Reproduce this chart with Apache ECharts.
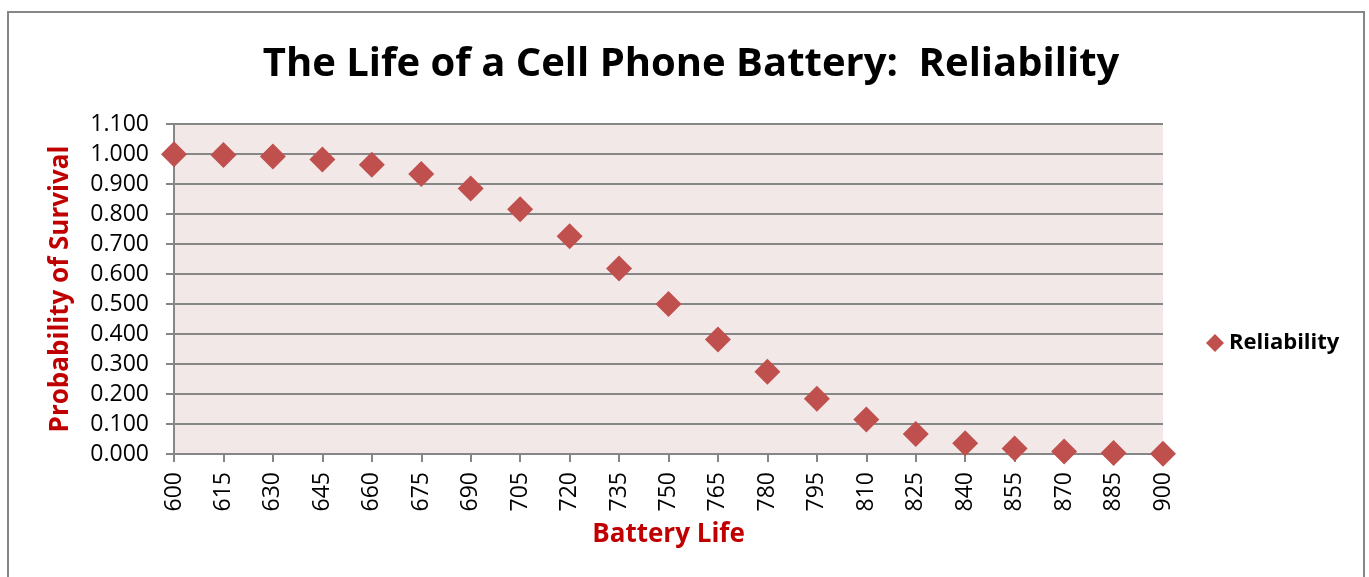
<!DOCTYPE html>
<html>
<head>
<meta charset="utf-8">
<title>The Life of a Cell Phone Battery: Reliability</title>
<script src="https://cdn.jsdelivr.net/npm/echarts@6/dist/echarts.min.js"></script>
<style>
  html, body { margin: 0; padding: 0; background: #fff; }
  #chart { width: 1369px; height: 577px; }
</style>
</head>
<body>
<div id="chart"></div>
<script>
// battery life (hours) and probability of survival
const batteryLife = [600, 615, 630, 645, 660, 675, 690, 705, 720, 735, 750,
  765, 780, 795, 810, 825, 840, 855, 870, 885, 900]
const reliability = [0.999, 0.997, 0.992, 0.982, 0.964, 0.933, 0.885, 0.816, 0.726, 0.618, 0.500,
  0.382, 0.274, 0.184, 0.115, 0.067, 0.036, 0.018, 0.008, 0.003, 0.001]

const red = '#c0504d'
const axisGray = '#868686'
const font = '"Open Sans", "Liberation Sans", sans-serif'

const chart = echarts.init(document.getElementById('chart'))

chart.setOption({
  animation: false,
  textStyle: { fontFamily: font },
  title: {
    text: 'The Life of a Cell Phone Battery:  Reliability',
    left: 686,
    top: 40,
    textAlign: 'center',
    textStyle: { fontSize: 40, fontWeight: 'bold', color: '#000', fontFamily: font }
  },
  graphic: [
    {
      type: 'rect',
      shape: { x: 8, y: 12, width: 1356, height: 600 },
      style: { fill: 'none', stroke: axisGray, lineWidth: 2 },
      silent: true
    }
  ],
  legend: {
    left: 1201,
    top: 327,
    itemWidth: 18,
    itemHeight: 18,
    itemGap: 6,
    textStyle: { fontSize: 22, fontWeight: 'bold', color: '#000' },
    data: [{ name: 'Reliability', icon: 'diamond' }]
  },
  grid: {
    left: 174,
    right: 206,
    top: 124,
    bottom: 123,
    show: true,
    backgroundColor: '#f2e8e8',
    borderWidth: 0
  },
  xAxis: {
    type: 'value',
    min: 600,
    max: 900,
    interval: 15,
    name: 'Battery Life',
    nameLocation: 'middle',
    nameGap: 68,
    nameTextStyle: { color: '#c00000', fontSize: 26, fontWeight: 'bold' },
    axisLine: { show: true, onZero: false, lineStyle: { color: axisGray, width: 2 } },
    axisTick: { show: true, length: 8, lineStyle: { color: axisGray, width: 2 } },
    axisLabel: { rotate: 90, fontSize: 23, color: '#000', margin: 18 },
    splitLine: { show: false }
  },
  yAxis: {
    type: 'value',
    min: 0,
    max: 1.1,
    interval: 0.1,
    name: 'Probability of Survival',
    nameLocation: 'middle',
    nameGap: 100,
    nameTextStyle: { color: '#c00000', fontSize: 26, fontWeight: 'bold' },
    axisLine: { show: true, lineStyle: { color: axisGray, width: 2 } },
    axisTick: { show: true, length: 8, lineStyle: { color: axisGray, width: 2 } },
    axisLabel: {
      fontSize: 23,
      color: '#000',
      margin: 25,
      formatter: (v) => v.toFixed(3)
    },
    splitLine: { show: true, lineStyle: { color: axisGray, width: 2 } }
  },
  series: [
    {
      name: 'Reliability',
      type: 'scatter',
      symbol: 'diamond',
      symbolSize: 26,
      itemStyle: { color: red, opacity: 1 },
      data: batteryLife.map((x, i) => [x, reliability[i]])
    }
  ]
})
</script>
</body>
</html>
